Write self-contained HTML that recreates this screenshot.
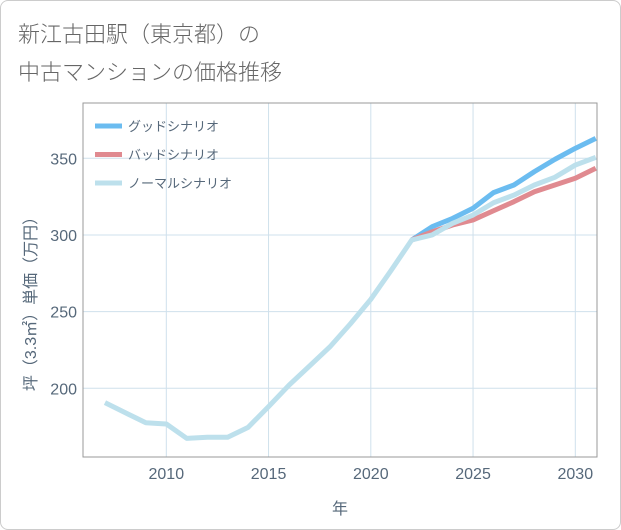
<!DOCTYPE html>
<html><head><meta charset="utf-8"><style>
body{margin:0;background:#fff;font-family:"Liberation Sans","Noto Sans CJK JP",sans-serif}
#card{position:absolute;left:0;top:0;width:619px;height:528px;border:1px solid #ccc;border-radius:8px;background:#fff}
#title{position:absolute;left:18px;top:14px;font-size:22px;line-height:38px;color:#666;font-family:"Noto Sans CJK JP",sans-serif;font-weight:300}
svg{position:absolute;left:0;top:0}
</style></head><body>
<div id="card"></div>
<div id="title">新江古田駅（東京都）の<br>中古マンションの価格推移</div>
<svg id="chart" width="621" height="530"></svg>
<script>
const years=[2007,2008,2009,2010,2011,2012,2013,2014,2015,2016,2017,2018,2019,2020,2021,2022];
const hist=[190.6,184,177.5,176.7,167.3,168,168,174.5,188,202,214.5,227,242,258,277,296.7];
const futYears=[2022,2023,2024,2025,2026,2027,2028,2029,2030,2031];
const good=[296.7,305.4,310.8,317.4,327.6,332.6,341.3,349.3,356.5,363];
const bad=[296.7,302,306.5,309.8,315.8,321.7,328.2,332.6,337,343.5];
const normal=[296.7,300,307.6,313,321,326,332.6,337.6,345.6,350.6];
const xTicks=[2010,2015,2020,2025,2030];
const yTicks=[200,250,300,350];
const legendNames=["グッドシナリオ","バッドシナリオ","ノーマルシナリオ"];
const colors=["#6bbcf0","#e08a90","#bde0ec"];
const L=83,R=597,T=103,B=457;
const X=y=>166.3+(y-2010)*20.45;
const Y=v=>158.3-(v-350)*1.533;
const svg=document.getElementById('chart');
const NS='http://www.w3.org/2000/svg';
const TC='#56687a';
function mk(t,a){const e=document.createElementNS(NS,t);for(const k in a)e.setAttribute(k,a[k]);svg.appendChild(e);return e;}
xTicks.forEach(t=>{const l=mk('line',{x1:X(t),x2:X(t),y1:T,y2:B,stroke:'#cfe0ec','stroke-width':1});


const tx=mk('text',{x:X(t),y:B+22,'text-anchor':'middle','font-size':16,fill:TC});tx.textContent=t;

});
yTicks.forEach(t=>{const l=mk('line',{x1:L,x2:R,y1:Y(t),y2:Y(t),stroke:'#cfe0ec','stroke-width':1});


const tx=mk('text',{x:L-6,y:Y(t)+6,'text-anchor':'end','font-size':16,fill:TC});tx.textContent=t;

});
const ax=mk('rect',{x:L,y:T,width:R-L,height:B-T,fill:'none',stroke:'#999','stroke-width':1});


function line(xs,vs,c,name){const p=mk('polyline',{points:xs.map((x,i)=>X(x)+','+Y(vs[i])).join(' '),fill:'none',stroke:c,'stroke-width':5,'stroke-linejoin':'round'});

}
const cp=mk('clipPath',{id:'cp'});const r=document.createElementNS(NS,'rect');r.setAttribute('x',L);r.setAttribute('y',T);r.setAttribute('width',R-L);r.setAttribute('height',B-T);cp.appendChild(r);
const g=mk('g',{'clip-path':'url(#cp)'});
line(futYears,good,colors[0],'good-scenario-line');
line(futYears,bad,colors[1],'bad-scenario-line');
line(years.concat(futYears.slice(1)),hist.concat(normal.slice(1)),colors[2],'normal-scenario-line');
[...svg.querySelectorAll('polyline[stroke-width="5"]')].forEach(p=>g.appendChild(p));
legendNames.forEach((n,i)=>{const y=126+i*28.5;
const l=mk('line',{x1:95,x2:122,y1:y,y2:y,stroke:colors[i],'stroke-width':5});


const t=mk('text',{x:128,y:y+5,'font-size':13,fill:TC});t.textContent=n;

});
const xt=mk('text',{x:340,y:514,'text-anchor':'middle','font-size':16,fill:TC});xt.textContent='年';


const yt=mk('text',{x:0,y:0,'text-anchor':'middle','font-size':16,fill:TC,transform:'translate(36,300) rotate(-90)'});yt.textContent='坪（3.3㎡）単価（万円）';


</script>
</body></html>
